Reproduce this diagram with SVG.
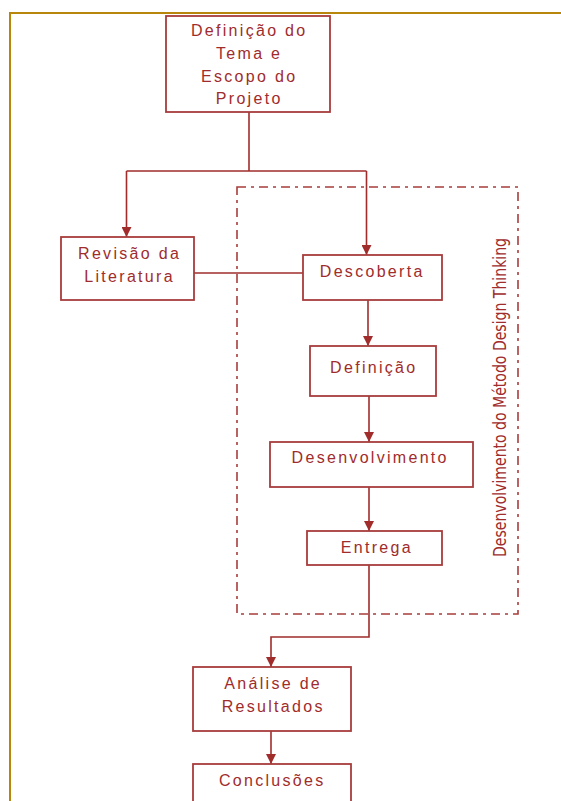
<svg xmlns="http://www.w3.org/2000/svg" width="561" height="801" viewBox="0 0 561 801">
  <style>
    .box rect { fill: #ffffff; stroke: #A83C3C; stroke-width: 1.8; }
    .box text { font-family: "Liberation Sans", Arial, sans-serif; font-size: 16px; letter-spacing: 2.3px; fill: #A02C2C; text-anchor: middle; }
    .conn { fill: none; stroke: #A02C2C; stroke-width: 1.6; }
    .group { fill: none; stroke: #A83C3C; stroke-width: 1.6; stroke-dasharray: 9 5 3 5; }
    .label { font-family: "Liberation Sans Narrow", "DejaVu Sans Condensed", sans-serif; font-size: 18px; fill: #A02C2C; text-anchor: middle; }
  </style>
  <defs>
    <marker id="arrow" viewBox="0 0 10 10" refX="10" refY="5" markerWidth="10" markerHeight="10" markerUnits="userSpaceOnUse" orient="auto">
      <path d="M0,0 L10,5 L0,10 Z" fill="#A02C2C"/>
    </marker>
  </defs>

  <rect width="561" height="801" fill="#ffffff"/>
  <!-- page frame -->
  <path d="M10,801 V13 H561" fill="none" stroke="#B8860B" stroke-width="2"/>

  <!-- Design Thinking phase grouping -->
  <g id="design-thinking-group">
    <rect class="group" x="237" y="187" width="281" height="427"/>
    <text class="label" transform="translate(506,397.5) rotate(-90)" textLength="319" lengthAdjust="spacingAndGlyphs">Desenvolvimento  do Método Design Thinking</text>
  </g>

  <g id="connectors">
    <path class="conn" d="M249,112 V171"/>
    <path class="conn" d="M126.5,171 H366.5"/>
    <path class="conn" d="M126.5,171 V237" marker-end="url(#arrow)"/>
    <path class="conn" d="M366.5,171 V255" marker-end="url(#arrow)"/>
    <path class="conn" d="M194,273 H303"/>
    <path class="conn" d="M368,300 V346" marker-end="url(#arrow)"/>
    <path class="conn" d="M369,396 V442" marker-end="url(#arrow)"/>
    <path class="conn" d="M369,485 V531" marker-end="url(#arrow)"/>
    <path class="conn" d="M369,565 V637 H271 V667" marker-end="url(#arrow)"/>
    <path class="conn" d="M271,731 V764" marker-end="url(#arrow)"/>
  </g>

  <g id="definicao-tema" class="box">
    <rect x="166" y="16" width="164" height="96"/>
    <text x="249.2" y="36">Definição do</text>
    <text x="249.2" y="59">Tema e</text>
    <text x="249.2" y="82">Escopo do</text>
    <text x="249.2" y="104">Projeto</text>
  </g>

  <g id="revisao-literatura" class="box">
    <rect x="61" y="237" width="133" height="63"/>
    <text x="129.6" y="259">Revisão da</text>
    <text x="129.6" y="282">Literatura</text>
  </g>

  <g id="descoberta" class="box">
    <rect x="303" y="255" width="139" height="45"/>
    <text x="372.2" y="277">Descoberta</text>
  </g>

  <g id="definicao" class="box">
    <rect x="310" y="346" width="126" height="50"/>
    <text x="373.8" y="373">Definição</text>
  </g>

  <g id="desenvolvimento" class="box">
    <rect x="270" y="442" width="203" height="45"/>
    <text x="370.2" y="463">Desenvolvimento</text>
  </g>

  <g id="entrega" class="box">
    <rect x="307" y="531" width="135" height="34"/>
    <text x="376.8" y="553">Entrega</text>
  </g>

  <g id="analise-resultados" class="box">
    <rect x="193" y="667" width="158" height="64"/>
    <text x="273.2" y="689">Análise de</text>
    <text x="273.2" y="712">Resultados</text>
  </g>

  <g id="conclusoes" class="box">
    <rect x="193" y="764" width="158" height="50"/>
    <text x="272.2" y="786">Conclusões</text>
  </g>
</svg>
